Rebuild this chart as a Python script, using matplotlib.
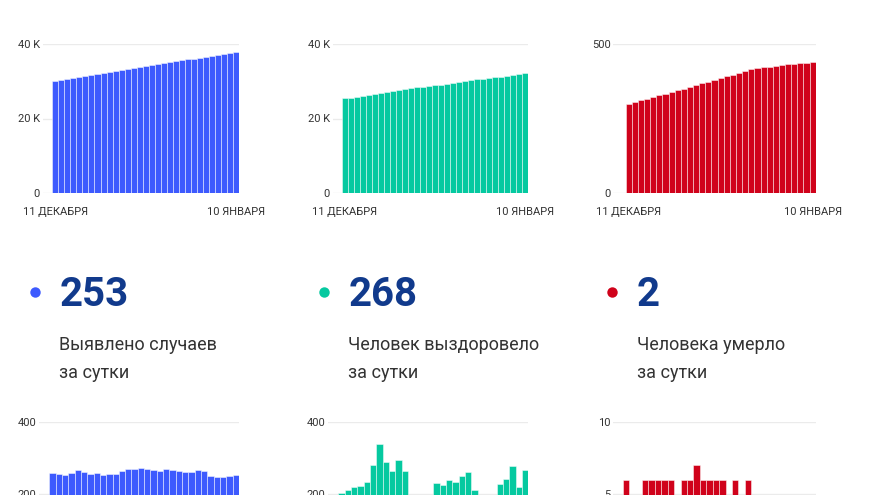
import matplotlib
matplotlib.use("Agg")
import matplotlib.pyplot as plt

W, H = 880, 495

# cumulative totals, 11 Dec .. 10 Jan
CASES_TOTAL = [30150, 30410, 30660, 30910, 31170, 31440, 31700, 31950, 32210, 32460,
               32720, 32980, 33240, 33510, 33780, 34050, 34320, 34590, 34850, 35120,
               35390, 35650, 35910, 36170, 36440, 36700, 36950, 37200, 37450, 37700, 37960]
RECOVERED_TOTAL = [25400, 25600, 25810, 26030, 26250, 26490, 26770, 27110, 27400, 27660,
                   27960, 28220, 28410, 28590, 28750, 28930, 29160, 29390, 29630, 29860,
                   30110, 30370, 30580, 30750, 30900, 31080, 31310, 31550, 31830, 32050, 32320]
DEATHS_TOTAL = [299, 306, 311, 317, 322, 328, 334, 339, 346, 351,
                356, 362, 369, 374, 381, 387, 393, 398, 403, 409,
                416, 420, 422, 425, 427, 429, 433, 434, 436, 438, 442]

# daily values, 12 Dec .. 10 Jan (bottom charts, partly cut off)
CASES_DAILY = [259, 255, 253, 259, 266, 260, 256, 258, 254, 257,
               256, 265, 269, 271, 272, 270, 268, 265, 271, 266,
               263, 260, 262, 266, 264, 251, 247, 247, 250, 253]
RECOVERED_DAILY = [203, 210, 219, 222, 233, 282, 340, 289, 263, 295,
                   264, 190, 175, 160, 185, 231, 226, 240, 233, 250,
                   260, 210, 170, 150, 180, 228, 242, 279, 219, 268]
DEATHS_DAILY = [6, 4, 4, 6, 6, 6, 6, 6, 4, 6,
                6, 7, 6, 6, 6, 6, 4, 6, 4, 6,
                4, 3, 3, 2, 3, 2, 3, 2, 2, 2]

DATE_LABELS = ["11 ДЕКАБРЯ", "10 ЯНВАРЯ"]
BIG_NUMBERS = ["253", "268", "2"]
CAPTION_LINE1 = ["Выявлено случаев", "Человек выздоровело", "Человека умерло"]
CAPTION_LINE2 = ["за сутки", "за сутки", "за сутки"]

TOP_YMAX = [40000, 40000, 500]
TOP_TICKS = [[0, 20000, 40000], [0, 20000, 40000], [0, 500]]
TOP_TICKLABELS = [["0", "20 K", "40 K"], ["0", "20 K", "40 K"], ["0", "500"]]
BOTTOM_YMAX = [400, 400, 10]
BOTTOM_TICKS = [[200, 400], [200, 400], [5, 10]]
BOTTOM_TICKLABELS = [["200", "400"], ["200", "400"], ["5", "10"]]

COLORS = ["#3d5afe", "#05c9a0", "#d0021b"]
NAVY = "#113a8c"
TEXT = "#333333"
GRID = "#ebebeb"

plt.rcParams["font.family"] = ["Roboto", "DejaVu Sans"]


def px_axes(fig, left, top, right, bottom):
    return fig.add_axes([left / W, 1 - bottom / H, (right - left) / W, (bottom - top) / H])


def bar_panel(ax, values, color, ymax, ticks, ticklabels, pad_bars):
    n = len(values)
    ax.bar(range(n), values, width=1.0, color=color, edgecolor=(1, 1, 1, 0.55),
           linewidth=0.6, zorder=3)
    ax.set_xlim(-0.5 - pad_bars, n - 0.5)
    ax.set_ylim(0, ymax)
    ax.set_yticks(ticks)
    ax.set_yticklabels(ticklabels)
    for s in ax.spines.values():
        s.set_visible(False)
    ax.tick_params(length=0, labelsize=8, colors=TEXT, pad=2)
    ax.grid(axis="y", color=GRID, linewidth=1, zorder=0)
    ax.set_axisbelow(True)


fig = plt.figure(figsize=(W / 100, H / 100), dpi=100)

# top row: cumulative totals
top_boxes = [(42.7, 239.0, 1.6), (332.7, 528.3, 1.5), (613.3, 815.7, 2.0)]
totals = [CASES_TOTAL, RECOVERED_TOTAL, DEATHS_TOTAL]
for i, (l, r, pad) in enumerate(top_boxes):
    ax = px_axes(fig, l, 44.3, r, 192.7)
    bar_panel(ax, totals[i], COLORS[i], TOP_YMAX[i], TOP_TICKS[i], TOP_TICKLABELS[i], pad)
    ax.set_xticks([0, len(totals[i]) - 1])
    ax.set_xticklabels(DATE_LABELS)
    ax.tick_params(axis="x", pad=10.5)

# bottom row: daily values (axes run past the bottom edge)
bottom_boxes = [(39.3, 239.0, 1.58), (328.3, 528.3, 1.59), (613.3, 815.7, 1.46)]
dailies = [CASES_DAILY, RECOVERED_DAILY, DEATHS_DAILY]
for i, (l, r, pad) in enumerate(bottom_boxes):
    ax = px_axes(fig, l, 422.3, r, 565.7)
    bar_panel(ax, dailies[i], COLORS[i], BOTTOM_YMAX[i], BOTTOM_TICKS[i],
              BOTTOM_TICKLABELS[i], pad)
    ax.set_xticks([])

# middle: dots, big numbers and captions
overlay = fig.add_axes([0, 0, 1, 1], zorder=-1)
overlay.set_xlim(0, W)
overlay.set_ylim(H, 0)
overlay.axis("off")

dot_x = [35.0, 324.0, 611.7]
text_x = [59.3, 348.3, 636.7]
for i in range(3):
    overlay.plot(dot_x[i], 291.7, "o", color=COLORS[i], markersize=7.5, markeredgewidth=0)
    overlay.text(text_x[i], 305.5, BIG_NUMBERS[i], fontsize=29, fontweight="bold",
                 color=NAVY, va="baseline", ha="left")
    overlay.text(text_x[i], 350.0, CAPTION_LINE1[i], fontsize=13, color=TEXT,
                 va="baseline", ha="left")
    overlay.text(text_x[i], 378.3, CAPTION_LINE2[i], fontsize=13, color=TEXT,
                 va="baseline", ha="left")

fig.savefig("out.png", dpi=100, facecolor="white")
